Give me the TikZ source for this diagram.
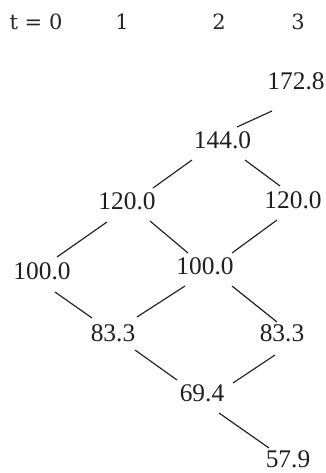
\documentclass[tikz,border=0pt]{standalone}
\usepackage{fontspec}
\setmainfont{Liberation Serif}
\newfontfamily\hdrfont{DejaVu Serif}
\begin{document}
\begin{tikzpicture}[x=1pt,y=-1pt,
  val/.style={inner sep=0pt,font=\fontsize{25.4}{27}\selectfont,text=black!88},
  hdr/.style={inner sep=0pt,font=\hdrfont\fontsize{21}{23}\selectfont,text=black!85},
  edge/.style={line width=1.2pt,draw=black!85}]
\useasboundingbox (0,0) rectangle (326,473);
% header
\node[hdr] (h0) at (36,22) {t = 0};
\node[hdr] (h1) at (122,22) {1};
\node[hdr] (h2) at (219,22) {2};
\node[hdr] (h3) at (298,22) {3};
% values
\node[val] (a) at (296,81) {172.8};
\node[val] (b) at (222.5,140) {144.0};
\node[val] (c) at (127,201) {120.0};
\node[val] (d) at (293,200) {120.0};
\node[val] (e) at (42,271) {100.0};
\node[val] (f) at (205,266) {100.0};
\node[val] (g) at (113,333) {83.3};
\node[val] (h) at (282,333) {83.3};
\node[val] (i) at (202,393) {69.4};
\node[val] (j) at (288,459) {57.9};
% connectors
\draw[edge] ([shift={(-24,30)}]a.center) -- ([shift={(14.5,-13)}]b.center);
\draw[edge] ([shift={(-30.5,20)}]b.center) -- ([shift={(26,-13)}]c.center);
\draw[edge] ([shift={(22.5,20)}]b.center) -- ([shift={(-13,-14)}]d.center);
\draw[edge] ([shift={(-20,21)}]c.center) -- ([shift={(15,-14)}]e.center);
\draw[edge] ([shift={(23,20)}]c.center) -- ([shift={(-17,-13)}]f.center);
\draw[edge] ([shift={(-16,20)}]d.center) -- ([shift={(27,-13)}]f.center);
\draw[edge] ([shift={(13,21)}]e.center) -- ([shift={(-21,-15)}]g.center);
\draw[edge] ([shift={(-20,20)}]f.center) -- ([shift={(24,-16)}]g.center);
\draw[edge] ([shift={(27,20)}]f.center) -- ([shift={(-5,-11)}]h.center);
\draw[edge] ([shift={(22,17)}]g.center) -- ([shift={(-25,-13)}]i.center);
\draw[edge] ([shift={(-7,22)}]h.center) -- ([shift={(31,-10)}]i.center);
\draw[edge] ([shift={(17,20)}]i.center) -- ([shift={(-19,-11)}]j.center);
\end{tikzpicture}
\end{document}
